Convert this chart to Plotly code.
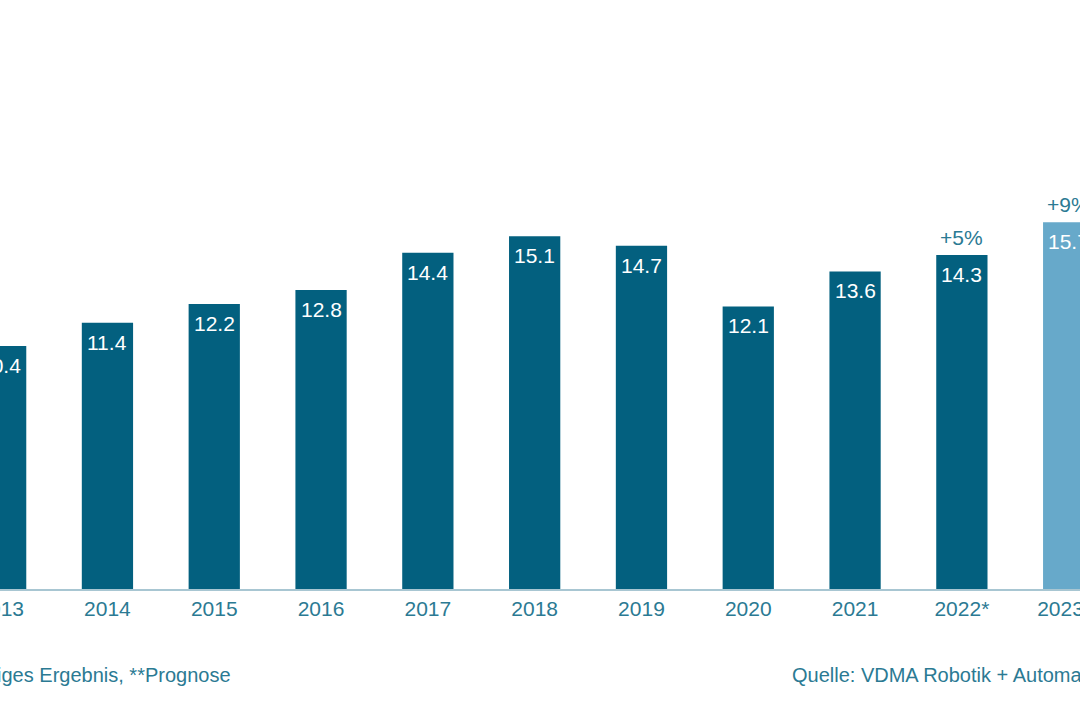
import plotly.graph_objects as go

years = ["2013", "2014", "2015", "2016", "2017", "2018", "2019", "2020", "2021", "2022*", "2023**"]
values = [10.4, 11.4, 12.2, 12.8, 14.4, 15.1, 14.7, 12.1, 13.6, 14.3, 15.7]
growth_labels = {9: "+5%", 10: "+9%"}
footnote = "*Vorläufiges Ergebnis, **Prognose"
source = "Quelle: VDMA Robotik + Automation"

DARK = "#03607f"
LIGHT = "#67a9ca"
TEXT = "#2b7a93"
FONT = "Liberation Sans, Arial, sans-serif"

xs = list(range(len(years)))
colors = [LIGHT if "**" in y else DARK for y in years]

fig = go.Figure()
fig.add_trace(go.Bar(x=xs, y=values, marker=dict(color=colors, line=dict(width=0)),
                     width=0.48, hoverinfo="skip"))

annotations = []
for i, v in zip(xs, values):
    annotations.append(dict(x=i, y=v, xref="x", yref="y", text=f"{v:.1f}",
                            showarrow=False, yanchor="top", yshift=-6,
                            font=dict(family=FONT, size=21, color="white")))
for i, t in growth_labels.items():
    annotations.append(dict(x=i, y=values[i], xref="x", yref="y", text=t,
                            showarrow=False, yanchor="bottom", yshift=4,
                            font=dict(family=FONT, size=21, color=TEXT)))
annotations.append(dict(x=233 / 1080, y=-0.146, xref="paper", yref="paper", text=footnote,
                        showarrow=False, xanchor="right", yanchor="middle",
                        font=dict(family=FONT, size=20, color=TEXT)))
annotations.append(dict(x=790 / 1080, y=-0.146, xref="paper", yref="paper", text=source,
                        showarrow=False, xanchor="left", yanchor="middle",
                        font=dict(family=FONT, size=20, color=TEXT)))

fig.update_layout(
    width=1080, height=720,
    margin=dict(l=0, r=0, t=0, b=131, autoexpand=False),
    paper_bgcolor="white", plot_bgcolor="white",
    showlegend=False,
    annotations=annotations,
    xaxis=dict(range=[-0.006, 10.106], tickmode="array", tickvals=xs, ticktext=years,
               showgrid=False, zeroline=False, showline=True, linecolor="#a8c6d2", linewidth=2,
               ticks="", ticklabeloverflow="allow", automargin=False,
               tickfont=dict(family=FONT, size=21, color=TEXT)),
    yaxis=dict(range=[0, 25.22], visible=False, showgrid=False, zeroline=False),
)

fig.write_html("out.html")
